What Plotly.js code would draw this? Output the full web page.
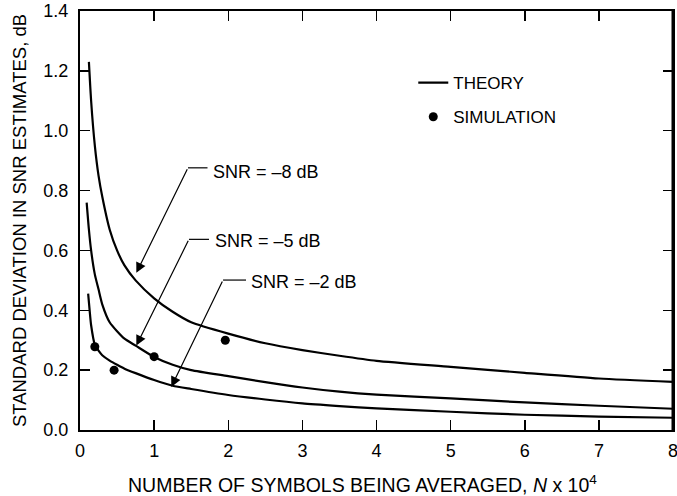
<!DOCTYPE html>
<html>
<head>
<meta charset="utf-8">
<script src="https://cdn.plot.ly/plotly-3.0.1.min.js"></script>
<style>html,body{margin:0;padding:0;background:#fff;}#chart{width:677px;height:496px;}</style>
</head>
<body>
<div id="chart"></div>
<script>
// Theory curves, N in units of 10^4
const nSnr8 = [0.12, 0.15, 0.2, 0.25, 0.3, 0.4, 0.5, 0.6, 0.75, 1.0, 1.25, 1.5, 2.0, 2.5, 3.0, 3.5, 4.0, 5.0, 6.0, 7.0, 8.0];
const sdSnr8 = [1.23, 1.10, 0.95, 0.85, 0.78, 0.67, 0.60, 0.55, 0.50, 0.44, 0.395, 0.36, 0.322, 0.29, 0.267, 0.248, 0.231, 0.211, 0.191, 0.172, 0.161];

const nSnr5 = [0.09, 0.12, 0.15, 0.2, 0.25, 0.3, 0.4, 0.5, 0.6, 0.75, 1.0, 1.25, 1.5, 2.0, 2.5, 3.0, 3.5, 4.0, 5.0, 6.0, 7.0, 8.0];
const sdSnr5 = [0.76, 0.67, 0.60, 0.52, 0.47, 0.42, 0.36, 0.33, 0.305, 0.282, 0.244, 0.218, 0.200, 0.180, 0.160, 0.142, 0.128, 0.118, 0.106, 0.092, 0.081, 0.071];

const nSnr2 = [0.11, 0.13, 0.15, 0.2, 0.25, 0.3, 0.4, 0.5, 0.6, 0.75, 1.0, 1.25, 1.5, 2.0, 2.5, 3.0, 3.5, 4.0, 5.0, 6.0, 7.0, 8.0];
const sdSnr2 = [0.456, 0.40, 0.35, 0.285, 0.265, 0.25, 0.232, 0.218, 0.205, 0.19, 0.167, 0.148, 0.137, 0.117, 0.102, 0.089, 0.080, 0.072, 0.061, 0.051, 0.045, 0.041];

// Simulation points
const nSim = [0.2, 0.46, 1.0, 1.96];
const sdSim = [0.278, 0.20, 0.245, 0.30];

// Axis ticks
const xTicks = [0, 1, 2, 3, 4, 5, 6, 7, 8];
const yTicks = [0.0, 0.2, 0.4, 0.6, 0.8, 1.0, 1.2, 1.4];

// Texts
const curveLabels = ['SNR = \u20138 dB', 'SNR = \u20135 dB', 'SNR = \u20132 dB'];
const xTitle = 'NUMBER OF SYMBOLS BEING AVERAGED, <i>N</i> x 10<sup>4</sup>';
const yTitle = 'STANDARD DEVIATION IN SNR ESTIMATES, dB';

const FONT = 'Liberation Sans, Arial, Helvetica, sans-serif';
const lineStyle = {color: '#000', width: 2.2, shape: 'spline', smoothing: 0.6};

const traces = [
  {x: nSnr8, y: sdSnr8, mode: 'lines', line: lineStyle, name: 'THEORY', showlegend: true, legendgroup: 'a', hoverinfo: 'skip'},
  {x: nSnr5, y: sdSnr5, mode: 'lines', line: lineStyle, name: 'THEORY', showlegend: false, legendgroup: 'a', hoverinfo: 'skip'},
  {x: nSnr2, y: sdSnr2, mode: 'lines', line: lineStyle, name: 'THEORY', showlegend: false, legendgroup: 'a', hoverinfo: 'skip'},
  {x: nSim, y: sdSim, mode: 'markers', marker: {color: '#000', size: 9}, name: 'SIMULATION', showlegend: true, legendgroup: 'b', hoverinfo: 'skip'}
];

function arrow(tipX, tipY, tailX, tailY) {
  return {x: tipX, y: tipY, ax: tailX, ay: tailY, xref: 'x', yref: 'y', axref: 'x', ayref: 'y',
    text: '', showarrow: true, arrowhead: 2, arrowsize: 1.7, arrowwidth: 1.2, arrowcolor: '#000'};
}
function label(txt, x, y) {
  return {x: x, y: y, xref: 'x', yref: 'y', text: txt, showarrow: false, xanchor: 'left', yanchor: 'middle',
    font: {family: FONT, size: 18, color: '#000'}};
}

const annotations = [
  arrow(0.76, 0.525, 1.457, 0.876),
  arrow(0.76, 0.282, 1.47, 0.637),
  arrow(1.232, 0.144, 1.93, 0.501),
  label(curveLabels[0], 1.77, 0.863),
  label(curveLabels[1], 1.795, 0.632),
  label(curveLabels[2], 2.28, 0.494),
  {x: 0.4756, y: -0.128, xref: 'paper', yref: 'paper', text: xTitle, showarrow: false,
    xanchor: 'center', yanchor: 'middle', font: {family: FONT, size: 19.5, color: '#000'}}
];

const shapes = [
  {type: 'line', xref: 'x', yref: 'y', x0: 1.457, x1: 1.72, y0: 0.876, y1: 0.876, line: {color: '#000', width: 1.2}},
  {type: 'line', xref: 'x', yref: 'y', x0: 1.47, x1: 1.74, y0: 0.637, y1: 0.637, line: {color: '#000', width: 1.2}},
  {type: 'line', xref: 'x', yref: 'y', x0: 1.93, x1: 2.24, y0: 0.501, y1: 0.501, line: {color: '#000', width: 1.2}},
  {type: 'line', xref: 'paper', yref: 'paper', x0: 1, x1: 1, y0: 0, y1: 1, line: {color: '#000', width: 3}}
];

const layout = {
  width: 677, height: 496,
  margin: {l: 80, r: 4, t: 11, b: 66},
  paper_bgcolor: '#fff', plot_bgcolor: '#fff',
  font: {family: FONT, size: 18, color: '#000'},
  showlegend: true,
  legend: {x: 0.562, y: 0.871, xanchor: 'left', yanchor: 'top', bgcolor: 'rgba(0,0,0,0)',
    font: {family: FONT, size: 17, color: '#000'}, traceorder: 'grouped', tracegroupgap: 9},
  xaxis: {
    range: [0, 8], tickvals: xTicks, ticktext: xTicks.map(String),
    ticks: 'inside', ticklen: 10, tickwidth: 1.5, tickcolor: '#000',
    showline: true, linewidth: 2, linecolor: '#000', mirror: 'allticks',
    showgrid: false, zeroline: false, ticklabelstandoff: 3, ticklabeloverflow: 'allow',
    tickfont: {family: FONT, size: 18, color: '#000'}
  },
  yaxis: {
    range: [0, 1.4], tickvals: yTicks, ticktext: yTicks.map(v => v.toFixed(1)),
    ticks: 'inside', ticklen: 10, tickwidth: 1.5, tickcolor: '#000',
    showline: true, linewidth: 2, linecolor: '#000', mirror: 'allticks',
    showgrid: false, zeroline: false, ticklabelstandoff: 6, ticklabeloverflow: 'allow',
    tickfont: {family: FONT, size: 18, color: '#000'},
    title: {text: yTitle, standoff: 12, font: {family: FONT, size: 18.5, color: '#000'}}
  },
  annotations: annotations,
  shapes: shapes
};

Plotly.newPlot('chart', traces, layout, {displayModeBar: false, staticPlot: true});
</script>
</body>
</html>
